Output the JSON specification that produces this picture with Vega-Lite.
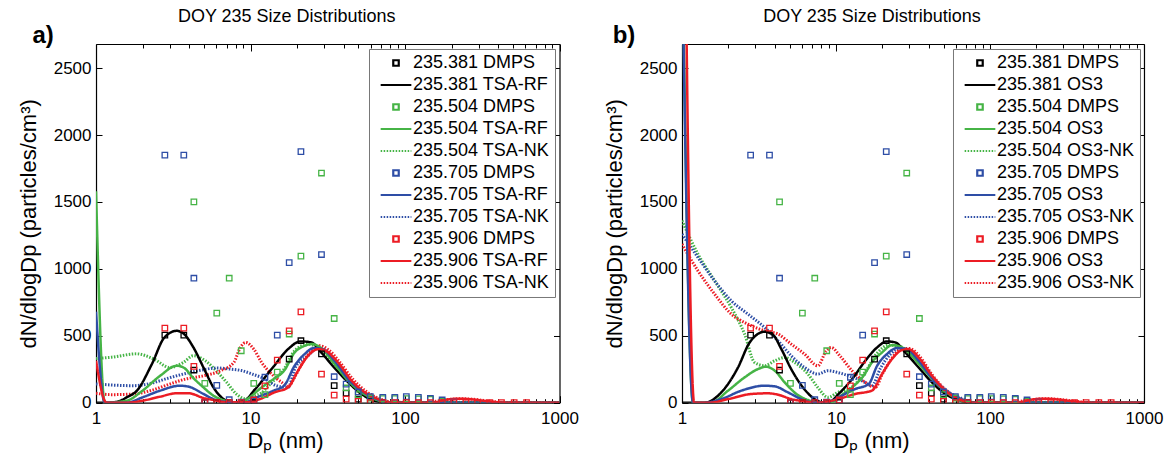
{
"$schema": "https://vega.github.io/schema/vega-lite/v6.json",
"background": "white",
"padding": {"left": 17, "top": 8, "right": 5, "bottom": 2},
"spacing": 24,
"config": {
 "font": "Liberation Sans",
 "view": {"stroke": null},
 "axis": {"labelFontSize": 17, "labelColor": "black", "labelFont": "Liberation Sans", "titleFont": "Liberation Sans", "titleFontSize": 22, "titleFontWeight": "normal", "titleColor": "black", "tickColor": "black", "domainColor": "black", "domainWidth": 1.2, "tickWidth": 1, "grid": false, "labelFlush": false, "labelOverlap": false},
 "title": {"fontSize": 18, "fontWeight": "normal", "font": "Liberation Sans", "color": "black", "offset": -2},
 "legend": {"title": null, "orient": "top-right", "offset": 4.5, "padding": 5, "strokeColor": "#777777", "fillColor": "white", "labelFontSize": 18, "labelFont": "Liberation Sans", "labelColor": "black", "labelLimit": 300, "labelOffset": 8, "symbolOffset": 13, "rowPadding": 4, "symbolSize": 30, "symbolStrokeWidth": 2.2, "symbolOpacity": 1}
},
"datasets": {
"dm": [
{"s":"235.381 DMPS","x":2.79,"y":505},{"s":"235.381 DMPS","x":3.7,"y":505},{"s":"235.381 DMPS","x":4.3,"y":244},{"s":"235.381 DMPS","x":5.06,"y":0},{"s":"235.381 DMPS","x":6.05,"y":0},{"s":"235.381 DMPS","x":7.28,"y":0},{"s":"235.381 DMPS","x":8.71,"y":0},{"s":"235.381 DMPS","x":10.5,"y":0},{"s":"235.381 DMPS","x":17.8,"y":326},{"s":"235.381 DMPS","x":21.2,"y":463},{"s":"235.381 DMPS","x":28.8,"y":365},{"s":"235.381 DMPS","x":34.8,"y":127},{"s":"235.381 DMPS","x":41.6,"y":72},{"s":"235.381 DMPS","x":49.8,"y":27},{"s":"235.381 DMPS","x":59.6,"y":8},{"s":"235.381 DMPS","x":71.8,"y":3},
{"s":"235.504 DMPS","x":4.3,"y":1500},{"s":"235.504 DMPS","x":5.06,"y":144},{"s":"235.504 DMPS","x":6.05,"y":669},{"s":"235.504 DMPS","x":7.28,"y":930},{"s":"235.504 DMPS","x":8.71,"y":388},{"s":"235.504 DMPS","x":10.5,"y":144},{"s":"235.504 DMPS","x":12.4,"y":60},{"s":"235.504 DMPS","x":14.9,"y":229},{"s":"235.504 DMPS","x":17.8,"y":513},{"s":"235.504 DMPS","x":21.2,"y":1095},{"s":"235.504 DMPS","x":28.8,"y":1716},{"s":"235.504 DMPS","x":34.8,"y":629},{"s":"235.504 DMPS","x":41.6,"y":110},{"s":"235.504 DMPS","x":49.8,"y":60},{"s":"235.504 DMPS","x":59.6,"y":35},{"s":"235.504 DMPS","x":71.8,"y":30},{"s":"235.504 DMPS","x":85.9,"y":30},{"s":"235.504 DMPS","x":102,"y":30},{"s":"235.504 DMPS","x":122,"y":28},{"s":"235.504 DMPS","x":146,"y":25},{"s":"235.504 DMPS","x":174,"y":10},
{"s":"235.705 DMPS","x":2.79,"y":1850},{"s":"235.705 DMPS","x":3.7,"y":1850},{"s":"235.705 DMPS","x":4.3,"y":930},{"s":"235.705 DMPS","x":5.06,"y":0},{"s":"235.705 DMPS","x":6.05,"y":130},{"s":"235.705 DMPS","x":7.28,"y":22},{"s":"235.705 DMPS","x":8.71,"y":5},{"s":"235.705 DMPS","x":10.5,"y":20},{"s":"235.705 DMPS","x":12.4,"y":190},{"s":"235.705 DMPS","x":14.9,"y":505},{"s":"235.705 DMPS","x":17.8,"y":1047},{"s":"235.705 DMPS","x":21.2,"y":1876},{"s":"235.705 DMPS","x":28.8,"y":1107},{"s":"235.705 DMPS","x":34.8,"y":194},{"s":"235.705 DMPS","x":41.6,"y":139},{"s":"235.705 DMPS","x":49.8,"y":80},{"s":"235.705 DMPS","x":59.6,"y":45},{"s":"235.705 DMPS","x":71.8,"y":40},{"s":"235.705 DMPS","x":85.9,"y":40},{"s":"235.705 DMPS","x":102,"y":45},{"s":"235.705 DMPS","x":122,"y":40},{"s":"235.705 DMPS","x":146,"y":32},{"s":"235.705 DMPS","x":174,"y":20},{"s":"235.705 DMPS","x":207,"y":5},
{"s":"235.906 DMPS","x":2.79,"y":557},{"s":"235.906 DMPS","x":3.7,"y":557},{"s":"235.906 DMPS","x":4.3,"y":271},{"s":"235.906 DMPS","x":5.06,"y":0},{"s":"235.906 DMPS","x":6.05,"y":0},{"s":"235.906 DMPS","x":7.28,"y":0},{"s":"235.906 DMPS","x":8.71,"y":0},{"s":"235.906 DMPS","x":10.5,"y":20},{"s":"235.906 DMPS","x":12.4,"y":125},{"s":"235.906 DMPS","x":14.9,"y":318},{"s":"235.906 DMPS","x":17.8,"y":537},{"s":"235.906 DMPS","x":21.2,"y":679},{"s":"235.906 DMPS","x":28.8,"y":214},{"s":"235.906 DMPS","x":34.8,"y":57},{"s":"235.906 DMPS","x":41.6,"y":27},{"s":"235.906 DMPS","x":49.8,"y":10},{"s":"235.906 DMPS","x":59.6,"y":0},{"s":"235.906 DMPS","x":71.8,"y":0},{"s":"235.906 DMPS","x":85.9,"y":0},{"s":"235.906 DMPS","x":102,"y":0},{"s":"235.906 DMPS","x":122,"y":0},{"s":"235.906 DMPS","x":146,"y":0},{"s":"235.906 DMPS","x":174,"y":0},{"s":"235.906 DMPS","x":207,"y":0},{"s":"235.906 DMPS","x":248,"y":0},{"s":"235.906 DMPS","x":295,"y":0},{"s":"235.906 DMPS","x":354,"y":0},{"s":"235.906 DMPS","x":421,"y":0},{"s":"235.906 DMPS","x":509,"y":0},{"s":"235.906 DMPS","x":612,"y":0}
],
"la": [
{"s":"235.381 TSA-RF","d":"solid","x":1,"y":0},{"s":"235.381 TSA-RF","d":"solid","x":1.17,"y":0},{"s":"235.381 TSA-RF","d":"solid","x":1.4,"y":10},{"s":"235.381 TSA-RF","d":"solid","x":1.58,"y":40},{"s":"235.381 TSA-RF","d":"solid","x":1.84,"y":90},{"s":"235.381 TSA-RF","d":"solid","x":2.3,"y":289},{"s":"235.381 TSA-RF","d":"solid","x":2.77,"y":487},{"s":"235.381 TSA-RF","d":"solid","x":3.33,"y":537},{"s":"235.381 TSA-RF","d":"solid","x":3.68,"y":517},{"s":"235.381 TSA-RF","d":"solid","x":4.27,"y":413},{"s":"235.381 TSA-RF","d":"solid","x":4.96,"y":263},{"s":"235.381 TSA-RF","d":"solid","x":5.76,"y":114},{"s":"235.381 TSA-RF","d":"solid","x":6.69,"y":27},{"s":"235.381 TSA-RF","d":"solid","x":7.8,"y":0},{"s":"235.381 TSA-RF","d":"solid","x":9,"y":10},{"s":"235.381 TSA-RF","d":"solid","x":10.7,"y":100},{"s":"235.381 TSA-RF","d":"solid","x":14.1,"y":270},{"s":"235.381 TSA-RF","d":"solid","x":17.5,"y":400},{"s":"235.381 TSA-RF","d":"solid","x":21.1,"y":458},{"s":"235.381 TSA-RF","d":"solid","x":24.8,"y":450},{"s":"235.381 TSA-RF","d":"solid","x":28.7,"y":375},{"s":"235.381 TSA-RF","d":"solid","x":35,"y":259},{"s":"235.381 TSA-RF","d":"solid","x":42.9,"y":152},{"s":"235.381 TSA-RF","d":"solid","x":52.2,"y":65},{"s":"235.381 TSA-RF","d":"solid","x":63.5,"y":15},{"s":"235.381 TSA-RF","d":"solid","x":78,"y":0},{"s":"235.381 TSA-RF","d":"solid","x":1000,"y":0},
{"s":"235.504 TSA-RF","d":"solid","x":1,"y":1580},{"s":"235.504 TSA-RF","d":"solid","x":1.14,"y":0},{"s":"235.504 TSA-RF","d":"solid","x":1.58,"y":15},{"s":"235.504 TSA-RF","d":"solid","x":2,"y":90},{"s":"235.504 TSA-RF","d":"solid","x":2.6,"y":201},{"s":"235.504 TSA-RF","d":"solid","x":3.33,"y":276},{"s":"235.504 TSA-RF","d":"solid","x":3.68,"y":263},{"s":"235.504 TSA-RF","d":"solid","x":4.27,"y":184},{"s":"235.504 TSA-RF","d":"solid","x":4.96,"y":114},{"s":"235.504 TSA-RF","d":"solid","x":5.76,"y":52},{"s":"235.504 TSA-RF","d":"solid","x":6.9,"y":15},{"s":"235.504 TSA-RF","d":"solid","x":8.5,"y":0},{"s":"235.504 TSA-RF","d":"solid","x":9.6,"y":30},{"s":"235.504 TSA-RF","d":"solid","x":11.8,"y":114},{"s":"235.504 TSA-RF","d":"solid","x":14.1,"y":177},{"s":"235.504 TSA-RF","d":"solid","x":16.5,"y":239},{"s":"235.504 TSA-RF","d":"solid","x":19.3,"y":375},{"s":"235.504 TSA-RF","d":"solid","x":22.4,"y":425},{"s":"235.504 TSA-RF","d":"solid","x":25.1,"y":438},{"s":"235.504 TSA-RF","d":"solid","x":29.2,"y":400},{"s":"235.504 TSA-RF","d":"solid","x":35,"y":289},{"s":"235.504 TSA-RF","d":"solid","x":42.9,"y":164},{"s":"235.504 TSA-RF","d":"solid","x":52.2,"y":77},{"s":"235.504 TSA-RF","d":"solid","x":63.5,"y":27},{"s":"235.504 TSA-RF","d":"solid","x":78,"y":0},{"s":"235.504 TSA-RF","d":"solid","x":1000,"y":0},
{"s":"235.504 TSA-NK","d":"dot","x":1,"y":330},{"s":"235.504 TSA-NK","d":"dot","x":1.26,"y":340},{"s":"235.504 TSA-NK","d":"dot","x":1.83,"y":365},{"s":"235.504 TSA-NK","d":"dot","x":2.37,"y":326},{"s":"235.504 TSA-NK","d":"dot","x":3,"y":263},{"s":"235.504 TSA-NK","d":"dot","x":3.68,"y":301},{"s":"235.504 TSA-NK","d":"dot","x":4.27,"y":351},{"s":"235.504 TSA-NK","d":"dot","x":5.1,"y":313},{"s":"235.504 TSA-NK","d":"dot","x":6,"y":239},{"s":"235.504 TSA-NK","d":"dot","x":7,"y":152},{"s":"235.504 TSA-NK","d":"dot","x":8.1,"y":65},{"s":"235.504 TSA-NK","d":"dot","x":9.4,"y":27},{"s":"235.504 TSA-NK","d":"dot","x":10.4,"y":45},{"s":"235.504 TSA-NK","d":"dot","x":11.9,"y":77},{"s":"235.504 TSA-NK","d":"dot","x":13.4,"y":139},{"s":"235.504 TSA-NK","d":"dot","x":16.5,"y":251},{"s":"235.504 TSA-NK","d":"dot","x":19.3,"y":388},{"s":"235.504 TSA-NK","d":"dot","x":23.6,"y":438},{"s":"235.504 TSA-NK","d":"dot","x":27.4,"y":410},{"s":"235.504 TSA-NK","d":"dot","x":32,"y":338},{"s":"235.504 TSA-NK","d":"dot","x":38,"y":239},{"s":"235.504 TSA-NK","d":"dot","x":46,"y":140},{"s":"235.504 TSA-NK","d":"dot","x":56,"y":60},{"s":"235.504 TSA-NK","d":"dot","x":70,"y":15},{"s":"235.504 TSA-NK","d":"dot","x":90,"y":0},{"s":"235.504 TSA-NK","d":"dot","x":1000,"y":0},
{"s":"235.705 TSA-RF","d":"solid","x":1,"y":680},{"s":"235.705 TSA-RF","d":"solid","x":1.14,"y":0},{"s":"235.705 TSA-RF","d":"solid","x":1.58,"y":0},{"s":"235.705 TSA-RF","d":"solid","x":2,"y":40},{"s":"235.705 TSA-RF","d":"solid","x":2.6,"y":90},{"s":"235.705 TSA-RF","d":"solid","x":3.5,"y":127},{"s":"235.705 TSA-RF","d":"solid","x":4,"y":119},{"s":"235.705 TSA-RF","d":"solid","x":4.96,"y":65},{"s":"235.705 TSA-RF","d":"solid","x":5.76,"y":27},{"s":"235.705 TSA-RF","d":"solid","x":7,"y":5},{"s":"235.705 TSA-RF","d":"solid","x":9,"y":0},{"s":"235.705 TSA-RF","d":"solid","x":11,"y":40},{"s":"235.705 TSA-RF","d":"solid","x":14.1,"y":90},{"s":"235.705 TSA-RF","d":"solid","x":16.5,"y":127},{"s":"235.705 TSA-RF","d":"solid","x":19.3,"y":276},{"s":"235.705 TSA-RF","d":"solid","x":22.4,"y":363},{"s":"235.705 TSA-RF","d":"solid","x":25.6,"y":408},{"s":"235.705 TSA-RF","d":"solid","x":29.2,"y":400},{"s":"235.705 TSA-RF","d":"solid","x":35,"y":313},{"s":"235.705 TSA-RF","d":"solid","x":42.9,"y":177},{"s":"235.705 TSA-RF","d":"solid","x":52.2,"y":90},{"s":"235.705 TSA-RF","d":"solid","x":63.5,"y":35},{"s":"235.705 TSA-RF","d":"solid","x":78,"y":0},{"s":"235.705 TSA-RF","d":"solid","x":1000,"y":0},
{"s":"235.705 TSA-NK","d":"dot","x":1,"y":140},{"s":"235.705 TSA-NK","d":"dot","x":1.26,"y":132},{"s":"235.705 TSA-NK","d":"dot","x":1.75,"y":127},{"s":"235.705 TSA-NK","d":"dot","x":2.25,"y":144},{"s":"235.705 TSA-NK","d":"dot","x":2.95,"y":184},{"s":"235.705 TSA-NK","d":"dot","x":3.68,"y":214},{"s":"235.705 TSA-NK","d":"dot","x":4.6,"y":239},{"s":"235.705 TSA-NK","d":"dot","x":6.05,"y":259},{"s":"235.705 TSA-NK","d":"dot","x":7.5,"y":250},{"s":"235.705 TSA-NK","d":"dot","x":8.75,"y":240},{"s":"235.705 TSA-NK","d":"dot","x":10.2,"y":215},{"s":"235.705 TSA-NK","d":"dot","x":12.4,"y":177},{"s":"235.705 TSA-NK","d":"dot","x":14.7,"y":127},{"s":"235.705 TSA-NK","d":"dot","x":17.5,"y":114},{"s":"235.705 TSA-NK","d":"dot","x":19.5,"y":263},{"s":"235.705 TSA-NK","d":"dot","x":23.6,"y":351},{"s":"235.705 TSA-NK","d":"dot","x":27,"y":405},{"s":"235.705 TSA-NK","d":"dot","x":30,"y":400},{"s":"235.705 TSA-NK","d":"dot","x":36,"y":300},{"s":"235.705 TSA-NK","d":"dot","x":44,"y":170},{"s":"235.705 TSA-NK","d":"dot","x":54,"y":80},{"s":"235.705 TSA-NK","d":"dot","x":66,"y":30},{"s":"235.705 TSA-NK","d":"dot","x":82,"y":0},{"s":"235.705 TSA-NK","d":"dot","x":1000,"y":0},
{"s":"235.906 TSA-RF","d":"solid","x":1,"y":313},{"s":"235.906 TSA-RF","d":"solid","x":1.17,"y":0},{"s":"235.906 TSA-RF","d":"solid","x":1.6,"y":0},{"s":"235.906 TSA-RF","d":"solid","x":2,"y":15},{"s":"235.906 TSA-RF","d":"solid","x":2.6,"y":45},{"s":"235.906 TSA-RF","d":"solid","x":3.3,"y":70},{"s":"235.906 TSA-RF","d":"solid","x":4,"y":70},{"s":"235.906 TSA-RF","d":"solid","x":4.96,"y":35},{"s":"235.906 TSA-RF","d":"solid","x":5.76,"y":20},{"s":"235.906 TSA-RF","d":"solid","x":7,"y":3},{"s":"235.906 TSA-RF","d":"solid","x":9.5,"y":3},{"s":"235.906 TSA-RF","d":"solid","x":11.5,"y":27},{"s":"235.906 TSA-RF","d":"solid","x":14.3,"y":77},{"s":"235.906 TSA-RF","d":"solid","x":17.5,"y":114},{"s":"235.906 TSA-RF","d":"solid","x":20.3,"y":239},{"s":"235.906 TSA-RF","d":"solid","x":23.6,"y":351},{"s":"235.906 TSA-RF","d":"solid","x":27.4,"y":400},{"s":"235.906 TSA-RF","d":"solid","x":30.3,"y":390},{"s":"235.906 TSA-RF","d":"solid","x":36.9,"y":300},{"s":"235.906 TSA-RF","d":"solid","x":45.2,"y":164},{"s":"235.906 TSA-RF","d":"solid","x":55,"y":77},{"s":"235.906 TSA-RF","d":"solid","x":67.2,"y":27},{"s":"235.906 TSA-RF","d":"solid","x":82,"y":0},{"s":"235.906 TSA-RF","d":"solid","x":150,"y":0},{"s":"235.906 TSA-RF","d":"solid","x":180,"y":20},{"s":"235.906 TSA-RF","d":"solid","x":220,"y":30},{"s":"235.906 TSA-RF","d":"solid","x":270,"y":25},{"s":"235.906 TSA-RF","d":"solid","x":350,"y":10},{"s":"235.906 TSA-RF","d":"solid","x":450,"y":0},{"s":"235.906 TSA-RF","d":"solid","x":1000,"y":0},
{"s":"235.906 TSA-NK","d":"dot","x":1,"y":70},{"s":"235.906 TSA-NK","d":"dot","x":1.26,"y":60},{"s":"235.906 TSA-NK","d":"dot","x":1.75,"y":65},{"s":"235.906 TSA-NK","d":"dot","x":2.25,"y":90},{"s":"235.906 TSA-NK","d":"dot","x":3,"y":139},{"s":"235.906 TSA-NK","d":"dot","x":3.8,"y":177},{"s":"235.906 TSA-NK","d":"dot","x":4.96,"y":201},{"s":"235.906 TSA-NK","d":"dot","x":6.4,"y":239},{"s":"235.906 TSA-NK","d":"dot","x":7.8,"y":301},{"s":"235.906 TSA-NK","d":"dot","x":8.6,"y":413},{"s":"235.906 TSA-NK","d":"dot","x":9.3,"y":450},{"s":"235.906 TSA-NK","d":"dot","x":10.5,"y":400},{"s":"235.906 TSA-NK","d":"dot","x":11.8,"y":301},{"s":"235.906 TSA-NK","d":"dot","x":14.1,"y":200},{"s":"235.906 TSA-NK","d":"dot","x":16,"y":150},{"s":"235.906 TSA-NK","d":"dot","x":17.5,"y":120},{"s":"235.906 TSA-NK","d":"dot","x":19.5,"y":200},{"s":"235.906 TSA-NK","d":"dot","x":22,"y":310},{"s":"235.906 TSA-NK","d":"dot","x":25,"y":390},{"s":"235.906 TSA-NK","d":"dot","x":28,"y":425},{"s":"235.906 TSA-NK","d":"dot","x":32,"y":395},{"s":"235.906 TSA-NK","d":"dot","x":38,"y":300},{"s":"235.906 TSA-NK","d":"dot","x":46,"y":175},{"s":"235.906 TSA-NK","d":"dot","x":56,"y":85},{"s":"235.906 TSA-NK","d":"dot","x":68,"y":30},{"s":"235.906 TSA-NK","d":"dot","x":85,"y":5},{"s":"235.906 TSA-NK","d":"dot","x":130,"y":0},{"s":"235.906 TSA-NK","d":"dot","x":180,"y":20},{"s":"235.906 TSA-NK","d":"dot","x":230,"y":30},{"s":"235.906 TSA-NK","d":"dot","x":280,"y":25},{"s":"235.906 TSA-NK","d":"dot","x":360,"y":10},{"s":"235.906 TSA-NK","d":"dot","x":450,"y":0},{"s":"235.906 TSA-NK","d":"dot","x":1000,"y":0}
],
"lb": [
{"s":"235.381 OS3","d":"solid","x":1,"y":0},{"s":"235.381 OS3","d":"solid","x":1.4,"y":0},{"s":"235.381 OS3","d":"solid","x":1.8,"y":77},{"s":"235.381 OS3","d":"solid","x":2.31,"y":263},{"s":"235.381 OS3","d":"solid","x":2.75,"y":450},{"s":"235.381 OS3","d":"solid","x":3.44,"y":530},{"s":"235.381 OS3","d":"solid","x":3.9,"y":507},{"s":"235.381 OS3","d":"solid","x":4.42,"y":400},{"s":"235.381 OS3","d":"solid","x":5.12,"y":251},{"s":"235.381 OS3","d":"solid","x":6.1,"y":114},{"s":"235.381 OS3","d":"solid","x":7.27,"y":27},{"s":"235.381 OS3","d":"solid","x":8.45,"y":0},{"s":"235.381 OS3","d":"solid","x":9.42,"y":15},{"s":"235.381 OS3","d":"solid","x":10.3,"y":60},{"s":"235.381 OS3","d":"solid","x":12.7,"y":175},{"s":"235.381 OS3","d":"solid","x":15.5,"y":313},{"s":"235.381 OS3","d":"solid","x":18.5,"y":413},{"s":"235.381 OS3","d":"solid","x":21.4,"y":458},{"s":"235.381 OS3","d":"solid","x":24.3,"y":450},{"s":"235.381 OS3","d":"solid","x":28.2,"y":375},{"s":"235.381 OS3","d":"solid","x":34.4,"y":263},{"s":"235.381 OS3","d":"solid","x":42,"y":152},{"s":"235.381 OS3","d":"solid","x":51.3,"y":65},{"s":"235.381 OS3","d":"solid","x":62.6,"y":20},{"s":"235.381 OS3","d":"solid","x":75,"y":0},{"s":"235.381 OS3","d":"solid","x":1000,"y":0},
{"s":"235.504 OS3","d":"solid","x":1,"y":3600},{"s":"235.504 OS3","d":"solid","x":1.18,"y":0},{"s":"235.504 OS3","d":"solid","x":1.54,"y":0},{"s":"235.504 OS3","d":"solid","x":1.99,"y":90},{"s":"235.504 OS3","d":"solid","x":2.55,"y":189},{"s":"235.504 OS3","d":"solid","x":3.11,"y":251},{"s":"235.504 OS3","d":"solid","x":3.52,"y":269},{"s":"235.504 OS3","d":"solid","x":4,"y":239},{"s":"235.504 OS3","d":"solid","x":4.64,"y":152},{"s":"235.504 OS3","d":"solid","x":5.53,"y":65},{"s":"235.504 OS3","d":"solid","x":6.57,"y":20},{"s":"235.504 OS3","d":"solid","x":8,"y":0},{"s":"235.504 OS3","d":"solid","x":9.5,"y":5},{"s":"235.504 OS3","d":"solid","x":10.4,"y":40},{"s":"235.504 OS3","d":"solid","x":12.7,"y":114},{"s":"235.504 OS3","d":"solid","x":15.1,"y":201},{"s":"235.504 OS3","d":"solid","x":17.1,"y":301},{"s":"235.504 OS3","d":"solid","x":19.9,"y":375},{"s":"235.504 OS3","d":"solid","x":23.1,"y":430},{"s":"235.504 OS3","d":"solid","x":26.8,"y":413},{"s":"235.504 OS3","d":"solid","x":30.3,"y":363},{"s":"235.504 OS3","d":"solid","x":36.2,"y":263},{"s":"235.504 OS3","d":"solid","x":44.3,"y":152},{"s":"235.504 OS3","d":"solid","x":53.9,"y":65},{"s":"235.504 OS3","d":"solid","x":65.6,"y":15},{"s":"235.504 OS3","d":"solid","x":80,"y":0},{"s":"235.504 OS3","d":"solid","x":1000,"y":0},
{"s":"235.504 OS3-NK","d":"dot","x":1,"y":1360},{"s":"235.504 OS3-NK","d":"dot","x":1.27,"y":1110},{"s":"235.504 OS3-NK","d":"dot","x":1.63,"y":910},{"s":"235.504 OS3-NK","d":"dot","x":2.09,"y":711},{"s":"235.504 OS3-NK","d":"dot","x":2.55,"y":513},{"s":"235.504 OS3-NK","d":"dot","x":2.96,"y":301},{"s":"235.504 OS3-NK","d":"dot","x":3.44,"y":276},{"s":"235.504 OS3-NK","d":"dot","x":4,"y":313},{"s":"235.504 OS3-NK","d":"dot","x":4.64,"y":338},{"s":"235.504 OS3-NK","d":"dot","x":5.39,"y":301},{"s":"235.504 OS3-NK","d":"dot","x":6.57,"y":214},{"s":"235.504 OS3-NK","d":"dot","x":7.62,"y":114},{"s":"235.504 OS3-NK","d":"dot","x":8.87,"y":40},{"s":"235.504 OS3-NK","d":"dot","x":10.3,"y":77},{"s":"235.504 OS3-NK","d":"dot","x":12.6,"y":114},{"s":"235.504 OS3-NK","d":"dot","x":15.5,"y":230},{"s":"235.504 OS3-NK","d":"dot","x":18.5,"y":370},{"s":"235.504 OS3-NK","d":"dot","x":22,"y":430},{"s":"235.504 OS3-NK","d":"dot","x":26,"y":420},{"s":"235.504 OS3-NK","d":"dot","x":30,"y":370},{"s":"235.504 OS3-NK","d":"dot","x":36,"y":270},{"s":"235.504 OS3-NK","d":"dot","x":44,"y":160},{"s":"235.504 OS3-NK","d":"dot","x":54,"y":70},{"s":"235.504 OS3-NK","d":"dot","x":66,"y":20},{"s":"235.504 OS3-NK","d":"dot","x":80,"y":0},{"s":"235.504 OS3-NK","d":"dot","x":1000,"y":0},
{"s":"235.705 OS3","d":"solid","x":1,"y":3400},{"s":"235.705 OS3","d":"solid","x":1.18,"y":0},{"s":"235.705 OS3","d":"solid","x":1.4,"y":0},{"s":"235.705 OS3","d":"solid","x":1.8,"y":27},{"s":"235.705 OS3","d":"solid","x":2.43,"y":90},{"s":"235.705 OS3","d":"solid","x":3.44,"y":127},{"s":"235.705 OS3","d":"solid","x":4,"y":122},{"s":"235.705 OS3","d":"solid","x":4.88,"y":77},{"s":"235.705 OS3","d":"solid","x":5.95,"y":27},{"s":"235.705 OS3","d":"solid","x":7.3,"y":0},{"s":"235.705 OS3","d":"solid","x":9.42,"y":15},{"s":"235.705 OS3","d":"solid","x":10.9,"y":52},{"s":"235.705 OS3","d":"solid","x":13.3,"y":102},{"s":"235.705 OS3","d":"solid","x":16.3,"y":139},{"s":"235.705 OS3","d":"solid","x":18.5,"y":276},{"s":"235.705 OS3","d":"solid","x":21.4,"y":363},{"s":"235.705 OS3","d":"solid","x":24.9,"y":408},{"s":"235.705 OS3","d":"solid","x":28.9,"y":400},{"s":"235.705 OS3","d":"solid","x":34.4,"y":313},{"s":"235.705 OS3","d":"solid","x":42,"y":184},{"s":"235.705 OS3","d":"solid","x":51.3,"y":90},{"s":"235.705 OS3","d":"solid","x":62.6,"y":35},{"s":"235.705 OS3","d":"solid","x":76,"y":0},{"s":"235.705 OS3","d":"solid","x":1000,"y":0},
{"s":"235.705 OS3-NK","d":"dot","x":1,"y":1260},{"s":"235.705 OS3-NK","d":"dot","x":1.27,"y":1085},{"s":"235.705 OS3-NK","d":"dot","x":1.63,"y":910},{"s":"235.705 OS3-NK","d":"dot","x":2.09,"y":761},{"s":"235.705 OS3-NK","d":"dot","x":2.68,"y":662},{"s":"235.705 OS3-NK","d":"dot","x":3.44,"y":562},{"s":"235.705 OS3-NK","d":"dot","x":4.2,"y":463},{"s":"235.705 OS3-NK","d":"dot","x":5.12,"y":351},{"s":"235.705 OS3-NK","d":"dot","x":6.25,"y":263},{"s":"235.705 OS3-NK","d":"dot","x":7.62,"y":214},{"s":"235.705 OS3-NK","d":"dot","x":8.87,"y":239},{"s":"235.705 OS3-NK","d":"dot","x":10.3,"y":225},{"s":"235.705 OS3-NK","d":"dot","x":12.5,"y":195},{"s":"235.705 OS3-NK","d":"dot","x":14.7,"y":164},{"s":"235.705 OS3-NK","d":"dot","x":17.1,"y":127},{"s":"235.705 OS3-NK","d":"dot","x":19.5,"y":260},{"s":"235.705 OS3-NK","d":"dot","x":22.5,"y":360},{"s":"235.705 OS3-NK","d":"dot","x":26,"y":405},{"s":"235.705 OS3-NK","d":"dot","x":30,"y":395},{"s":"235.705 OS3-NK","d":"dot","x":36,"y":300},{"s":"235.705 OS3-NK","d":"dot","x":44,"y":170},{"s":"235.705 OS3-NK","d":"dot","x":54,"y":80},{"s":"235.705 OS3-NK","d":"dot","x":66,"y":30},{"s":"235.705 OS3-NK","d":"dot","x":80,"y":0},{"s":"235.705 OS3-NK","d":"dot","x":1000,"y":0},
{"s":"235.906 OS3","d":"solid","x":1,"y":5900},{"s":"235.906 OS3","d":"solid","x":1.2,"y":0},{"s":"235.906 OS3","d":"solid","x":1.5,"y":0},{"s":"235.906 OS3","d":"solid","x":1.99,"y":27},{"s":"235.906 OS3","d":"solid","x":2.82,"y":65},{"s":"235.906 OS3","d":"solid","x":3.62,"y":70},{"s":"235.906 OS3","d":"solid","x":4.2,"y":60},{"s":"235.906 OS3","d":"solid","x":5.12,"y":27},{"s":"235.906 OS3","d":"solid","x":6.25,"y":10},{"s":"235.906 OS3","d":"solid","x":7.5,"y":0},{"s":"235.906 OS3","d":"solid","x":8.97,"y":10},{"s":"235.906 OS3","d":"solid","x":10.9,"y":35},{"s":"235.906 OS3","d":"solid","x":13.3,"y":65},{"s":"235.906 OS3","d":"solid","x":17.1,"y":90},{"s":"235.906 OS3","d":"solid","x":19.9,"y":214},{"s":"235.906 OS3","d":"solid","x":23.1,"y":326},{"s":"235.906 OS3","d":"solid","x":26.8,"y":393},{"s":"235.906 OS3","d":"solid","x":29.5,"y":400},{"s":"235.906 OS3","d":"solid","x":34.4,"y":338},{"s":"235.906 OS3","d":"solid","x":42,"y":201},{"s":"235.906 OS3","d":"solid","x":51.3,"y":90},{"s":"235.906 OS3","d":"solid","x":62.6,"y":27},{"s":"235.906 OS3","d":"solid","x":78,"y":0},{"s":"235.906 OS3","d":"solid","x":150,"y":0},{"s":"235.906 OS3","d":"solid","x":180,"y":20},{"s":"235.906 OS3","d":"solid","x":220,"y":30},{"s":"235.906 OS3","d":"solid","x":270,"y":25},{"s":"235.906 OS3","d":"solid","x":350,"y":10},{"s":"235.906 OS3","d":"solid","x":450,"y":0},{"s":"235.906 OS3","d":"solid","x":1000,"y":0},
{"s":"235.906 OS3-NK","d":"dot","x":1,"y":1185},{"s":"235.906 OS3-NK","d":"dot","x":1.27,"y":985},{"s":"235.906 OS3-NK","d":"dot","x":1.63,"y":811},{"s":"235.906 OS3-NK","d":"dot","x":2.09,"y":662},{"s":"235.906 OS3-NK","d":"dot","x":2.68,"y":587},{"s":"235.906 OS3-NK","d":"dot","x":3.44,"y":537},{"s":"235.906 OS3-NK","d":"dot","x":4.2,"y":513},{"s":"235.906 OS3-NK","d":"dot","x":5.12,"y":438},{"s":"235.906 OS3-NK","d":"dot","x":6.25,"y":363},{"s":"235.906 OS3-NK","d":"dot","x":7.62,"y":276},{"s":"235.906 OS3-NK","d":"dot","x":8.65,"y":388},{"s":"235.906 OS3-NK","d":"dot","x":9.3,"y":413},{"s":"235.906 OS3-NK","d":"dot","x":10.6,"y":350},{"s":"235.906 OS3-NK","d":"dot","x":12.7,"y":239},{"s":"235.906 OS3-NK","d":"dot","x":15.5,"y":152},{"s":"235.906 OS3-NK","d":"dot","x":18,"y":114},{"s":"235.906 OS3-NK","d":"dot","x":20,"y":214},{"s":"235.906 OS3-NK","d":"dot","x":23,"y":330},{"s":"235.906 OS3-NK","d":"dot","x":26.5,"y":400},{"s":"235.906 OS3-NK","d":"dot","x":30,"y":405},{"s":"235.906 OS3-NK","d":"dot","x":35,"y":345},{"s":"235.906 OS3-NK","d":"dot","x":42,"y":210},{"s":"235.906 OS3-NK","d":"dot","x":51,"y":100},{"s":"235.906 OS3-NK","d":"dot","x":62,"y":35},{"s":"235.906 OS3-NK","d":"dot","x":78,"y":0},{"s":"235.906 OS3-NK","d":"dot","x":130,"y":0},{"s":"235.906 OS3-NK","d":"dot","x":180,"y":20},{"s":"235.906 OS3-NK","d":"dot","x":230,"y":30},{"s":"235.906 OS3-NK","d":"dot","x":280,"y":25},{"s":"235.906 OS3-NK","d":"dot","x":360,"y":10},{"s":"235.906 OS3-NK","d":"dot","x":450,"y":0},{"s":"235.906 OS3-NK","d":"dot","x":1000,"y":0}
]
},
"resolve": {"scale": {"color": "independent", "shape": "independent", "strokeDash": "independent"}, "legend": {"color": "independent", "shape": "independent", "strokeDash": "independent"}},
"hconcat": [
{
 "width": 463.5, "height": 358.7,
 "title": {"text": "DOY 235 Size Distributions", "dx": -41},
 "resolve": {"axis": {"x": "independent", "y": "independent"}},
 "layer": [
  {"data": {"name": "la"}, "transform": [{"filter": "datum.d == 'dot'"}],
   "mark": {"type": "line", "strokeWidth": 3, "clip": true, "interpolate": "monotone"},
   "encoding": {
    "x": {"field": "x", "type": "quantitative", "scale": {"type": "log", "domain": [1, 1000], "nice": false}, "axis": null},
    "y": {"field": "y", "type": "quantitative", "scale": {"domain": [0, 2680], "nice": false, "zero": false}, "axis": null},
    "color": {"field": "s", "type": "nominal", "scale": {"domain": ["235.381 DMPS","235.381 TSA-RF","235.504 DMPS","235.504 TSA-RF","235.504 TSA-NK","235.705 DMPS","235.705 TSA-RF","235.705 TSA-NK","235.906 DMPS","235.906 TSA-RF","235.906 TSA-NK"], "range": ["#000000","#000000","#46b446","#46b446","#46b446","#2e4ea6","#2e4ea6","#2e4ea6","#ec1c24","#ec1c24","#ec1c24"]}, "legend": {"title": null}},
    "strokeDash": {"field": "s", "type": "nominal", "scale": {"domain": ["235.381 DMPS","235.381 TSA-RF","235.504 DMPS","235.504 TSA-RF","235.504 TSA-NK","235.705 DMPS","235.705 TSA-RF","235.705 TSA-NK","235.906 DMPS","235.906 TSA-RF","235.906 TSA-NK"], "range": [[1,0],[1,0],[1,0],[1,0],[1.5,1.5],[1,0],[1,0],[1.5,1.5],[1,0],[1,0],[1.5,1.5]]}, "legend": {"title": null}}
   }},
  {"data": {"name": "la"}, "transform": [{"filter": "datum.d == 'solid'"}],
   "mark": {"type": "line", "strokeWidth": 2.5, "clip": true, "interpolate": "monotone"},
   "encoding": {
    "x": {"field": "x", "type": "quantitative", "scale": {"type": "log", "domain": [1, 1000], "nice": false}, "axis": null},
    "y": {"field": "y", "type": "quantitative", "scale": {"domain": [0, 2680], "nice": false, "zero": false}, "axis": null},
    "color": {"field": "s", "type": "nominal"},
    "strokeDash": {"field": "s", "type": "nominal"}
   }},
  {"data": {"name": "dm"},
   "mark": {"type": "point", "filled": false, "size": 30, "strokeWidth": 1.3, "opacity": 1, "clip": true},
   "encoding": {
    "x": {"field": "x", "type": "quantitative", "scale": {"type": "log", "domain": [1, 1000], "nice": false},
      "axis": {"orient": "bottom", "values": [1, 10, 100, 1000], "format": "d", "tickSize": -7, "labelPadding": 15, "title": "Dₚ (nm)", "titleX": 189, "titlePadding": 4}},
    "y": {"field": "y", "type": "quantitative", "scale": {"domain": [0, 2680], "nice": false, "zero": false},
      "axis": {"orient": "left", "values": [0, 500, 1000, 1500, 2000, 2500], "format": "d", "tickSize": -6, "labelPadding": 11, "title": "dN/dlogDp (particles/cm³)", "titlePadding": 13}},
    "color": {"field": "s", "type": "nominal"},
    "shape": {"field": "s", "type": "nominal", "scale": {"domain": ["235.381 DMPS","235.381 TSA-RF","235.504 DMPS","235.504 TSA-RF","235.504 TSA-NK","235.705 DMPS","235.705 TSA-RF","235.705 TSA-NK","235.906 DMPS","235.906 TSA-RF","235.906 TSA-NK"], "range": ["square","M-5.6,0H5.6","square","M-5.6,0H5.6","M-5.6,0H5.6","square","M-5.6,0H5.6","M-5.6,0H5.6","square","M-5.6,0H5.6","M-5.6,0H5.6"]}, "legend": {"title": null}}
   }},
  {"data": {"name": "dm"}, "mark": {"type": "point", "opacity": 0},
   "encoding": {
    "x": {"field": "x", "type": "quantitative", "scale": {"type": "log", "domain": [1, 1000], "nice": false},
      "axis": {"orient": "top", "values": [1, 10, 100, 1000], "tickSize": -7, "labels": false, "title": null}},
    "y": {"field": "y", "type": "quantitative", "scale": {"domain": [0, 2680], "nice": false, "zero": false},
      "axis": {"orient": "right", "values": [0, 500, 1000, 1500, 2000, 2500], "tickSize": -6, "labels": false, "title": null}}
   }},
  {"data": {"name": "dm"}, "mark": {"type": "point", "opacity": 0},
   "encoding": {
    "x": {"field": "x", "type": "quantitative", "scale": {"type": "log", "domain": [1, 1000], "nice": false},
      "axis": {"orient": "bottom", "values": [2,3,4,5,6,7,8,9,20,30,40,50,60,70,80,90,200,300,400,500,600,700,800,900], "tickSize": -4, "labels": false, "domain": false, "title": null}},
    "y": {"field": "y", "type": "quantitative", "scale": {"domain": [0, 2680], "nice": false, "zero": false}, "axis": null}
   }},
  {"data": {"name": "dm"}, "mark": {"type": "point", "opacity": 0},
   "encoding": {
    "x": {"field": "x", "type": "quantitative", "scale": {"type": "log", "domain": [1, 1000], "nice": false},
      "axis": {"orient": "top", "values": [2,3,4,5,6,7,8,9,20,30,40,50,60,70,80,90,200,300,400,500,600,700,800,900], "tickSize": -4, "labels": false, "domain": false, "title": null}},
    "y": {"field": "y", "type": "quantitative", "scale": {"domain": [0, 2680], "nice": false, "zero": false}, "axis": null}
   }},
  {"data": {"values": [{}]},
   "mark": {"type": "text", "text": "a)", "fontSize": 24, "fontWeight": "bold", "font": "Liberation Sans", "align": "center", "baseline": "middle", "color": "black"},
   "encoding": {
    "x": {"datum": 0.455, "type": "quantitative", "scale": {"type": "log", "domain": [1, 1000], "nice": false}, "axis": null},
    "y": {"datum": 2739, "type": "quantitative", "scale": {"domain": [0, 2680], "nice": false, "zero": false}, "axis": null}
   }}
 ]
},
{
 "width": 462, "height": 358.7,
 "title": {"text": "DOY 235 Size Distributions", "dx": -41},
 "resolve": {"axis": {"x": "independent", "y": "independent"}},
 "layer": [
  {"data": {"name": "lb"}, "transform": [{"filter": "datum.d == 'dot'"}],
   "mark": {"type": "line", "strokeWidth": 3, "clip": true, "interpolate": "monotone"},
   "encoding": {
    "x": {"field": "x", "type": "quantitative", "scale": {"type": "log", "domain": [1, 1000], "nice": false}, "axis": null},
    "y": {"field": "y", "type": "quantitative", "scale": {"domain": [0, 2680], "nice": false, "zero": false}, "axis": null},
    "color": {"field": "s", "type": "nominal", "scale": {"domain": ["235.381 DMPS","235.381 OS3","235.504 DMPS","235.504 OS3","235.504 OS3-NK","235.705 DMPS","235.705 OS3","235.705 OS3-NK","235.906 DMPS","235.906 OS3","235.906 OS3-NK"], "range": ["#000000","#000000","#46b446","#46b446","#46b446","#2e4ea6","#2e4ea6","#2e4ea6","#ec1c24","#ec1c24","#ec1c24"]}, "legend": {"title": null}},
    "strokeDash": {"field": "s", "type": "nominal", "scale": {"domain": ["235.381 DMPS","235.381 OS3","235.504 DMPS","235.504 OS3","235.504 OS3-NK","235.705 DMPS","235.705 OS3","235.705 OS3-NK","235.906 DMPS","235.906 OS3","235.906 OS3-NK"], "range": [[1,0],[1,0],[1,0],[1,0],[1.5,1.5],[1,0],[1,0],[1.5,1.5],[1,0],[1,0],[1.5,1.5]]}, "legend": {"title": null}}
   }},
  {"data": {"name": "lb"}, "transform": [{"filter": "datum.d == 'solid'"}],
   "mark": {"type": "line", "strokeWidth": 2.5, "clip": true, "interpolate": "monotone"},
   "encoding": {
    "x": {"field": "x", "type": "quantitative", "scale": {"type": "log", "domain": [1, 1000], "nice": false}, "axis": null},
    "y": {"field": "y", "type": "quantitative", "scale": {"domain": [0, 2680], "nice": false, "zero": false}, "axis": null},
    "color": {"field": "s", "type": "nominal"},
    "strokeDash": {"field": "s", "type": "nominal"}
   }},
  {"data": {"name": "dm"},
   "mark": {"type": "point", "filled": false, "size": 30, "strokeWidth": 1.3, "opacity": 1, "clip": true},
   "encoding": {
    "x": {"field": "x", "type": "quantitative", "scale": {"type": "log", "domain": [1, 1000], "nice": false},
      "axis": {"orient": "bottom", "values": [1, 10, 100, 1000], "format": "d", "tickSize": -7, "labelPadding": 15, "title": "Dₚ (nm)", "titleX": 189, "titlePadding": 4}},
    "y": {"field": "y", "type": "quantitative", "scale": {"domain": [0, 2680], "nice": false, "zero": false},
      "axis": {"orient": "left", "values": [0, 500, 1000, 1500, 2000, 2500], "format": "d", "tickSize": -6, "labelPadding": 11, "title": "dN/dlogDp (particles/cm³)", "titlePadding": 13}},
    "color": {"field": "s", "type": "nominal"},
    "shape": {"field": "s", "type": "nominal", "scale": {"domain": ["235.381 DMPS","235.381 OS3","235.504 DMPS","235.504 OS3","235.504 OS3-NK","235.705 DMPS","235.705 OS3","235.705 OS3-NK","235.906 DMPS","235.906 OS3","235.906 OS3-NK"], "range": ["square","M-5.6,0H5.6","square","M-5.6,0H5.6","M-5.6,0H5.6","square","M-5.6,0H5.6","M-5.6,0H5.6","square","M-5.6,0H5.6","M-5.6,0H5.6"]}, "legend": {"title": null}}
   }},
  {"data": {"name": "dm"}, "mark": {"type": "point", "opacity": 0},
   "encoding": {
    "x": {"field": "x", "type": "quantitative", "scale": {"type": "log", "domain": [1, 1000], "nice": false},
      "axis": {"orient": "top", "values": [1, 10, 100, 1000], "tickSize": -7, "labels": false, "title": null}},
    "y": {"field": "y", "type": "quantitative", "scale": {"domain": [0, 2680], "nice": false, "zero": false},
      "axis": {"orient": "right", "values": [0, 500, 1000, 1500, 2000, 2500], "tickSize": -6, "labels": false, "title": null}}
   }},
  {"data": {"name": "dm"}, "mark": {"type": "point", "opacity": 0},
   "encoding": {
    "x": {"field": "x", "type": "quantitative", "scale": {"type": "log", "domain": [1, 1000], "nice": false},
      "axis": {"orient": "bottom", "values": [2,3,4,5,6,7,8,9,20,30,40,50,60,70,80,90,200,300,400,500,600,700,800,900], "tickSize": -4, "labels": false, "domain": false, "title": null}},
    "y": {"field": "y", "type": "quantitative", "scale": {"domain": [0, 2680], "nice": false, "zero": false}, "axis": null}
   }},
  {"data": {"name": "dm"}, "mark": {"type": "point", "opacity": 0},
   "encoding": {
    "x": {"field": "x", "type": "quantitative", "scale": {"type": "log", "domain": [1, 1000], "nice": false},
      "axis": {"orient": "top", "values": [2,3,4,5,6,7,8,9,20,30,40,50,60,70,80,90,200,300,400,500,600,700,800,900], "tickSize": -4, "labels": false, "domain": false, "title": null}},
    "y": {"field": "y", "type": "quantitative", "scale": {"domain": [0, 2680], "nice": false, "zero": false}, "axis": null}
   }},
  {"data": {"values": [{}]},
   "mark": {"type": "text", "text": "b)", "fontSize": 24, "fontWeight": "bold", "font": "Liberation Sans", "align": "center", "baseline": "middle", "color": "black"},
   "encoding": {
    "x": {"datum": 0.42, "type": "quantitative", "scale": {"type": "log", "domain": [1, 1000], "nice": false}, "axis": null},
    "y": {"datum": 2739, "type": "quantitative", "scale": {"domain": [0, 2680], "nice": false, "zero": false}, "axis": null}
   }}
 ]
}
]
}
